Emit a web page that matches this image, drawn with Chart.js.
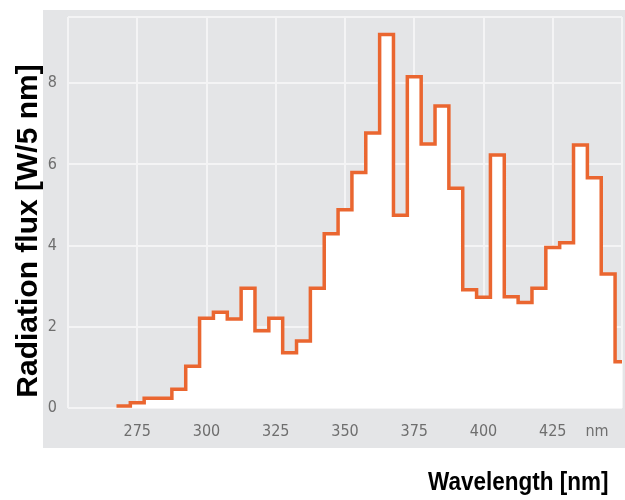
<!DOCTYPE html>
<html>
<head>
<meta charset="utf-8">
<script src="https://cdn.jsdelivr.net/npm/chart.js@4.4.0/dist/chart.umd.min.js"></script>
<style>
    body { margin: 0; background: #ffffff; }
    #wrap { width: 625px; height: 500px; }
</style>
</head>
<body>
<div id="wrap"><canvas id="myChart" width="625" height="500"></canvas></div>
<script>
// bin centres (nm), each bin is 5 nm wide
const wavelengths = [270, 275, 280, 285, 290, 295, 300, 305, 310, 315, 320, 325, 330, 335, 340,
    345, 350, 355, 360, 365, 370, 375, 380, 385, 390, 395, 400, 405, 410, 415, 420,
    425, 430, 435, 440, 445, 450];
const flux = [0.05, 0.13, 0.24, 0.24, 0.46, 1.03, 2.21, 2.36, 2.19, 2.95, 1.90, 2.21, 1.36, 1.65, 2.95,
    4.29, 4.88, 5.80, 6.77, 9.20, 4.75, 8.16, 6.50, 7.44, 5.41, 2.91, 2.73, 6.23, 2.74, 2.60, 2.95,
    3.95, 4.07, 6.48, 5.67, 3.30, 1.14];
const binWidth = 5;
const xTicks = [275, 300, 325, 350, 375, 400, 425];
const yTicks = [0, 2, 4, 6, 8];

const tickFont = "'DejaVu Sans Condensed', 'Liberation Sans', sans-serif";

function getStepPoints() {
    let points = [];

    for (let i = 0; i < wavelengths.length; i++) {
        points.push({
            x: wavelengths[i] - binWidth / 2,
            y: flux[i]
        });
    }

    // close the last bin
    let last = wavelengths.length - 1;
    points.push({
        x: wavelengths[last] + binWidth / 2,
        y: flux[last]
    });

    return points;
}

const panelPlugin = {
    id: 'panel',
    beforeDraw(chart) {
        const ctx = chart.ctx;
        ctx.save();
        ctx.fillStyle = '#e4e5e7';
        ctx.fillRect(43, 10, 582, 438);
        ctx.restore();
    },
    afterDraw(chart) {
        const ctx = chart.ctx;
        ctx.save();

        // unit label at the end of the x axis
        ctx.fillStyle = '#6e6e6e';
        ctx.font = '16px ' + tickFont;
        ctx.textAlign = 'center';
        ctx.textBaseline = 'middle';
        ctx.fillText('nm', 597, 432);

        // x axis title (condensed look)
        ctx.save();
        ctx.fillStyle = '#000000';
        ctx.font = "bold 25px 'Liberation Sans', Arial, sans-serif";
        ctx.textAlign = 'left';
        ctx.textBaseline = 'alphabetic';
        ctx.translate(428, 490);
        ctx.scale(0.9, 1);
        ctx.fillText('Wavelength [nm]', 0, 0);
        ctx.restore();

        // y axis title
        ctx.fillStyle = '#000000';
        ctx.translate(37, 231);
        ctx.rotate(-Math.PI / 2);
        ctx.font = "bold 30px 'Liberation Sans', Arial, sans-serif";
        ctx.textAlign = 'center';
        ctx.textBaseline = 'alphabetic';
        ctx.fillText('Radiation flux [W/5 nm]', 0, 0);

        ctx.restore();
    }
};

function initChart() {
    const ctx = document.getElementById('myChart');
    const myChart = new Chart(ctx, {
        type: 'line',
        data: {
            datasets: [{
                data: getStepPoints(),
                stepped: true,
                borderColor: '#ea6630',
                borderWidth: 3.5,
                backgroundColor: '#ffffff',
                fill: 'origin',
                pointRadius: 0,
                tension: 0
            }]
        },
        options: {
            responsive: false,
            animation: false,
            layout: {
                padding: { left: 0, top: 17, right: 3, bottom: 0 }
            },
            scales: {
                x: {
                    type: 'linear',
                    min: 250,
                    max: 450,
                    afterFit(scale) {
                        scale.height = 92;
                        scale.paddingLeft = 0;
                        scale.paddingRight = 0;
                    },
                    afterBuildTicks(scale) {
                        scale.ticks = [250].concat(xTicks, [450]).map(v => ({ value: v }));
                    },
                    ticks: {
                        autoSkip: false,
                        maxRotation: 0,
                        padding: 14,
                        color: '#6e6e6e',
                        font: { family: tickFont, size: 16 },
                        callback: v => xTicks.includes(v) ? String(v) : ''
                    },
                    grid: {
                        color: '#f4f4f5',
                        lineWidth: 2,
                        drawTicks: false
                    },
                    border: { display: false }
                },
                y: {
                    min: 0,
                    max: 9.63,
                    afterFit(scale) {
                        scale.width = 68;
                        scale.paddingTop = 0;
                        scale.paddingBottom = 0;
                    },
                    afterBuildTicks(scale) {
                        scale.ticks = yTicks.concat([9.63]).map(v => ({ value: v }));
                    },
                    ticks: {
                        padding: 11,
                        color: '#6e6e6e',
                        font: { family: tickFont, size: 16 },
                        callback: v => yTicks.includes(v) ? String(v) : ''
                    },
                    grid: {
                        color: '#f4f4f5',
                        lineWidth: 2,
                        drawTicks: false
                    },
                    border: { display: false }
                }
            },
            plugins: {
                legend: { display: false },
                tooltip: { enabled: false }
            }
        },
        plugins: [panelPlugin]
    });
}

initChart();
</script>
</body>
</html>
